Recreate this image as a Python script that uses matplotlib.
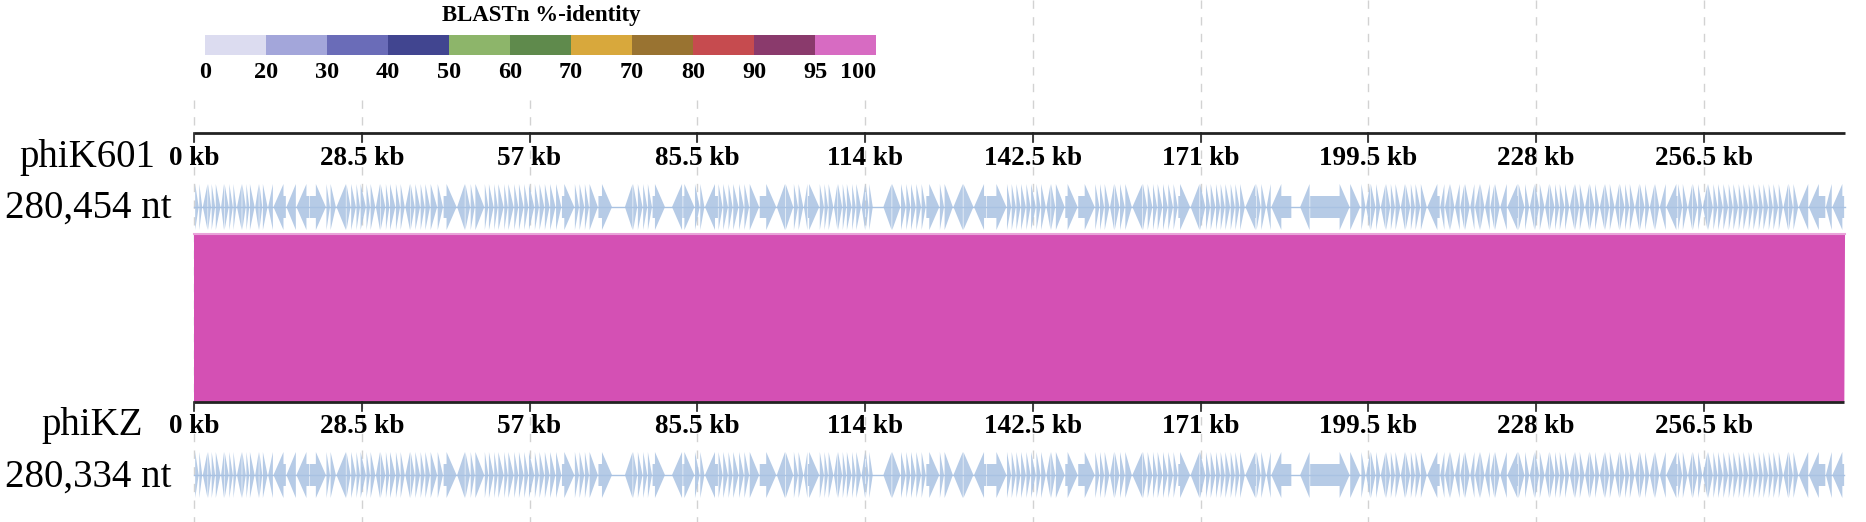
import matplotlib
matplotlib.use("Agg")
import matplotlib.pyplot as plt
from matplotlib.patches import Polygon, Rectangle

# colour key of the BLASTn identity
identity_labels = ["0", "20", "30", "40", "50", "60", "70", "70", "80", "90", "95", "100"]
identity_colors = ["#dcdcf0", "#a3a6da", "#6a6cb8", "#414590", "#8db56a", "#5f8a4c",
                   "#d8a83c", "#997331", "#c64b4f", "#8a3a6c", "#d76bc2"]

# genomes
genome_names = ["phiK601", "phiKZ"]
genome_sizes = ["280,454 nt", "280,334 nt"]
genome_kb = [280.454, 280.334]
tick_kb = [0, 28.5, 57, 85.5, 114, 142.5, 171, 199.5, 228, 256.5]

# one whole-genome BLASTn hit (query kb, subject kb)
hit_query = [0, 280.454]
hit_subject = [0, 280.334]
hit_color = "#d450b4"

# gene annotation (start kb, end kb, strand)
genes_0_46 = [
    (0.2, 0.8, 1), (0.9, 1.4, 1), (1.5, 2.3, -1), (2.4, 2.9, 1), (3.0, 3.6, 1), (3.7, 4.5, 1),
    (4.6, 5.1, -1), (5.2, 5.9, 1), (6.0, 6.6, 1), (6.7, 7.2, 1), (7.3, 8.1, -1), (8.2, 8.8, 1),
    (8.9, 9.4, 1), (9.5, 10.3, 1), (10.4, 11.0, -1), (11.1, 11.6, 1), (11.7, 12.5, 1), (12.6, 13.4, -1),
    (13.5, 15.6, -1), (15.7, 17.3, -1), (17.4, 19.6, -1), (19.7, 22.4, 1), (22.5, 23.1, 1), (23.2, 24.1, 1),
    (24.2, 25.8, -1), (25.9, 26.6, 1), (26.7, 27.5, 1), (27.6, 28.2, 1), (28.3, 29.2, 1), (29.3, 29.9, 1),
    (30.0, 30.8, 1), (30.9, 31.6, -1), (31.7, 32.5, 1), (32.6, 33.2, 1), (33.3, 34.2, 1), (34.3, 35.0, 1),
    (35.1, 35.8, 1), (35.9, 36.7, -1), (36.8, 37.5, 1), (37.6, 38.4, 1), (38.5, 39.2, 1), (39.3, 40.1, 1),
    (40.2, 41.3, 1), (41.4, 42.3, 1), (42.4, 44.6, 1), (44.7, 46.0, -1),
]
genes_46_93 = [
    (46.1, 46.9, 1), (47.0, 47.7, 1), (47.8, 49.3, 1), (49.4, 50.0, 1), (50.1, 50.9, 1), (51.0, 51.6, 1),
    (51.7, 52.6, 1), (52.7, 53.3, 1), (53.4, 54.3, 1), (54.4, 55.1, 1), (55.2, 56.0, 1), (56.1, 56.8, 1),
    (56.9, 57.8, 1), (57.9, 58.6, 1), (58.7, 59.5, 1), (59.6, 60.4, 1), (60.5, 61.4, 1), (61.5, 62.4, 1),
    (62.5, 64.6, 1), (64.7, 65.4, 1), (65.5, 66.3, 1), (66.4, 67.1, 1), (67.2, 68.6, 1), (68.7, 71.0, 1),
    (73.2, 74.5, -1), (74.6, 75.3, 1), (75.4, 76.2, 1), (76.3, 77.0, 1), (77.1, 77.8, 1), (77.9, 80.0, 1),
    (81.2, 83.0, -1), (83.1, 85.0, 1), (85.1, 85.9, 1), (86.0, 86.7, 1), (86.8, 89.0, -1), (89.1, 89.8, 1),
    (89.9, 90.7, 1), (90.8, 91.5, 1), (91.6, 92.5, 1), (92.6, 93.4, 1),
]
genes_93_140 = [
    (93.5, 94.3, 1), (94.4, 96.0, 1), (96.1, 98.9, 1), (99.0, 100.4, -1), (100.5, 101.8, 1), (101.9, 102.6, 1),
    (102.7, 103.5, 1), (103.6, 104.2, -1), (104.3, 106.2, 1), (106.3, 107.0, 1), (107.1, 107.7, 1), (107.8, 108.6, 1),
    (108.7, 109.3, -1), (109.4, 110.1, 1), (110.2, 110.8, 1), (110.9, 111.7, 1), (111.8, 112.4, 1), (112.5, 113.3, 1),
    (113.4, 114.0, -1), (114.1, 114.6, 1), (114.7, 115.3, 1), (117.1, 118.5, -1), (118.6, 120.0, 1), (120.1, 120.9, 1),
    (121.0, 121.7, 1), (121.8, 122.6, 1), (122.7, 123.5, 1), (123.6, 124.3, 1), (124.4, 126.6, 1), (126.7, 127.4, 1),
    (127.5, 128.9, 1), (129.0, 130.6, -1), (130.7, 132.4, 1), (132.5, 134.6, -1), (134.7, 138.0, 1), (138.1, 138.8, 1),
    (138.9, 139.6, 1),
]
genes_140_198 = [
    (139.7, 140.4, 1), (140.5, 141.3, 1), (141.4, 142.1, 1), (142.2, 143.0, 1), (143.1, 143.8, 1), (143.9, 144.7, 1),
    (144.8, 145.5, -1), (145.6, 146.3, 1), (146.4, 147.9, 1), (148.0, 150.1, 1), (150.2, 153.0, 1), (153.1, 153.8, 1),
    (153.9, 154.6, 1), (154.7, 155.5, 1), (155.6, 156.3, -1), (156.4, 157.2, 1), (157.3, 158.1, 1), (158.2, 159.3, 1),
    (159.4, 161.1, -1), (161.2, 161.9, 1), (162.0, 162.8, 1), (162.9, 163.6, 1), (163.7, 164.5, 1), (164.6, 165.4, 1),
    (165.5, 166.3, 1), (166.4, 167.1, 1), (167.2, 169.2, 1), (169.3, 170.8, -1), (170.9, 171.8, 1), (171.9, 172.6, 1),
    (172.7, 173.5, 1), (173.6, 174.3, 1), (174.4, 175.1, 1), (175.2, 176.0, 1), (176.1, 176.8, 1), (176.9, 177.6, 1),
    (177.7, 178.5, 1), (178.6, 180.4, -1), (180.5, 181.2, 1), (181.3, 182.1, 1), (182.2, 182.9, -1), (183.0, 186.4, -1),
    (187.9, 189.5, -1), (189.6, 196.3, 1), (196.4, 198.1, 1),
]
genes_198_233 = [
    (198.3, 199.0, 1), (199.1, 199.8, -1), (199.9, 200.7, 1), (200.8, 201.5, 1), (201.6, 202.4, -1), (202.5, 203.2, 1),
    (203.3, 204.0, 1), (204.1, 204.9, 1), (205.0, 205.7, -1), (205.8, 206.6, 1), (206.7, 207.4, 1), (207.5, 208.3, 1),
    (208.4, 209.4, 1), (209.5, 211.6, -1), (211.7, 212.4, -1), (212.5, 213.3, -1), (213.4, 214.1, 1), (214.2, 215.0, -1),
    (215.1, 215.8, -1), (215.9, 216.7, 1), (216.8, 217.5, -1), (217.6, 218.4, -1), (218.5, 219.2, 1), (219.3, 220.1, -1),
    (220.2, 220.9, -1), (221.0, 221.8, 1), (221.9, 223.0, -1), (223.1, 224.9, -1), (225.0, 226.0, 1), (226.1, 226.8, 1),
    (226.9, 227.7, -1), (227.8, 228.5, 1), (228.6, 229.4, 1), (229.5, 230.2, -1), (230.3, 231.1, 1), (231.2, 231.9, 1),
    (232.0, 232.8, 1),
]
genes_233_281 = [
    (232.9, 233.6, 1), (233.7, 234.5, -1), (234.6, 235.3, 1), (235.4, 236.2, 1), (236.3, 237.0, -1), (237.1, 237.9, 1),
    (238.0, 238.7, 1), (238.8, 239.6, -1), (239.7, 240.4, 1), (240.5, 241.3, 1), (241.4, 242.1, -1), (242.2, 243.0, 1),
    (243.1, 243.8, 1), (243.9, 244.7, 1), (244.8, 245.5, -1), (245.6, 246.4, 1), (246.5, 247.2, 1), (247.3, 248.1, -1),
    (248.2, 248.9, 1), (249.0, 250.0, -1), (250.1, 252.0, -1), (252.1, 252.8, 1), (252.9, 253.7, 1), (253.8, 254.5, -1),
    (254.6, 255.4, 1), (255.5, 256.2, 1), (256.3, 257.1, -1), (257.2, 258.0, 1), (258.1, 258.8, 1), (258.9, 259.7, 1),
    (259.8, 260.6, 1), (260.7, 261.4, 1), (261.5, 262.3, 1), (262.4, 263.1, 1), (263.2, 264.0, 1), (264.1, 264.8, 1),
    (264.9, 265.7, 1), (265.8, 266.5, 1), (266.6, 267.4, 1), (267.5, 268.2, 1), (268.3, 269.1, 1), (269.2, 269.9, 1),
    (270.0, 270.8, -1), (270.9, 271.6, 1), (271.7, 272.5, 1), (272.6, 274.2, -1), (274.3, 277.1, -1), (277.2, 278.2, -1),
    (278.3, 280.3, -1),
]
k601_genes = genes_0_46 + genes_46_93 + genes_93_140 + genes_140_198 + genes_198_233 + genes_233_281
kz_genes = k601_genes  # phiKZ annotation draws the same

W, H = 1866, 522
gene_color = "#a9c2e2"
serif = "Liberation Serif"

fig = plt.figure(figsize=(W / 100, H / 100), dpi=100)
ax = fig.add_axes([0, 0, 1, 1])
# x in kb, y in pixel rows
kb_px = 5.887
ax.set_xlim(-194 / kb_px, (W - 194) / kb_px)
ax.set_ylim(H, 0)
ax.axis("off")


def fx(px):
    return px / W


def fy(py):
    return 1 - py / H


# dashed guides at every tick
for t in tick_kb:
    ax.plot([t, t], [0, H], color="#d2d2d2", lw=1, ls=(0, (6, 6)), zorder=0)
ax.add_patch(Rectangle((-4 / kb_px, 0), 700 / kb_px, 98, color="white", zorder=1))


def gene_arrow(start, end, strand, yc, head=1.7, hh=23, bh=11):
    size = end - start
    hl = min(head, size)
    if strand > 0:
        b = end - hl
        if b > start:
            pts = [(start, yc - bh), (b, yc - bh), (b, yc - hh), (end, yc), (b, yc + hh), (b, yc + bh), (start, yc + bh)]
        else:
            pts = [(start, yc - hh), (end, yc), (start, yc + hh)]
    else:
        b = start + hl
        if b < end:
            pts = [(end, yc - bh), (b, yc - bh), (b, yc - hh), (start, yc), (b, yc + hh), (b, yc + bh), (end, yc + bh)]
        else:
            pts = [(end, yc - hh), (start, yc), (end, yc + hh)]
    return Polygon(pts, closed=True, facecolor=gene_color, edgecolor="none", alpha=0.85, zorder=3)


def draw_genome(name, size_text, length, genes, axis_y, label_base, track_y, name_right, name_base, size_base):
    ax.plot([0, length], [axis_y, axis_y], color="#222222", lw=2, zorder=5, solid_capstyle="butt")
    for t in tick_kb:
        ax.plot([t, t], [axis_y, axis_y + 9], color="#222222", lw=1.2, zorder=5)
        ax.text(t, label_base, f"{t:g} kb", ha="center", va="baseline", fontsize=19.5,
                fontweight="bold", family=serif, zorder=6)
    ax.plot([0, length], [track_y, track_y], color=gene_color, lw=1, zorder=2)
    for s, e, d in genes:
        ax.add_patch(gene_arrow(s, e, d, track_y))
    fig.text(fx(name_right), fy(name_base), name, ha="right", va="baseline", fontsize=28, family=serif)
    fig.text(fx(5), fy(size_base), size_text, ha="left", va="baseline", fontsize=28, family=serif)


# BLASTn hit between the two genomes
band = Polygon([(hit_query[0], 233), (hit_query[1], 233), (hit_subject[1], 402), (hit_subject[0], 402)],
               closed=True, facecolor=hit_color, edgecolor="none", zorder=4)
ax.add_patch(band)
ax.plot(hit_query, [233.5, 233.5], color="#eaa3da", lw=1.5, zorder=4)

draw_genome(genome_names[0], genome_sizes[0], genome_kb[0], k601_genes, 133, 165, 207, 155, 167, 218)
draw_genome(genome_names[1], genome_sizes[1], genome_kb[1], kz_genes, 402, 433, 475, 143, 435, 487)

# colour key
cax = fig.add_axes([fx(205), fy(55), 671 / W, 20.5 / H])
cax.bar(range(len(identity_colors)), [1] * len(identity_colors), width=1, align="edge",
        color=identity_colors, linewidth=0)
cax.set_xlim(0, len(identity_colors))
cax.set_ylim(0, 1)
cax.set_yticks([])
cax.set_xticks(range(len(identity_labels)))
cax.set_xticklabels(identity_labels, fontsize=17.5, fontweight="bold", family=serif)
cax.get_xticklabels()[-1].set_horizontalalignment("right")
cax.tick_params(axis="x", length=0, pad=5)
for sp in cax.spines.values():
    sp.set_visible(False)
fig.text(fx(541), fy(21), "BLASTn %-identity", ha="center", va="baseline", fontsize=16.5,
         fontweight="bold", family=serif)

fig.savefig("out.png", dpi=100)
